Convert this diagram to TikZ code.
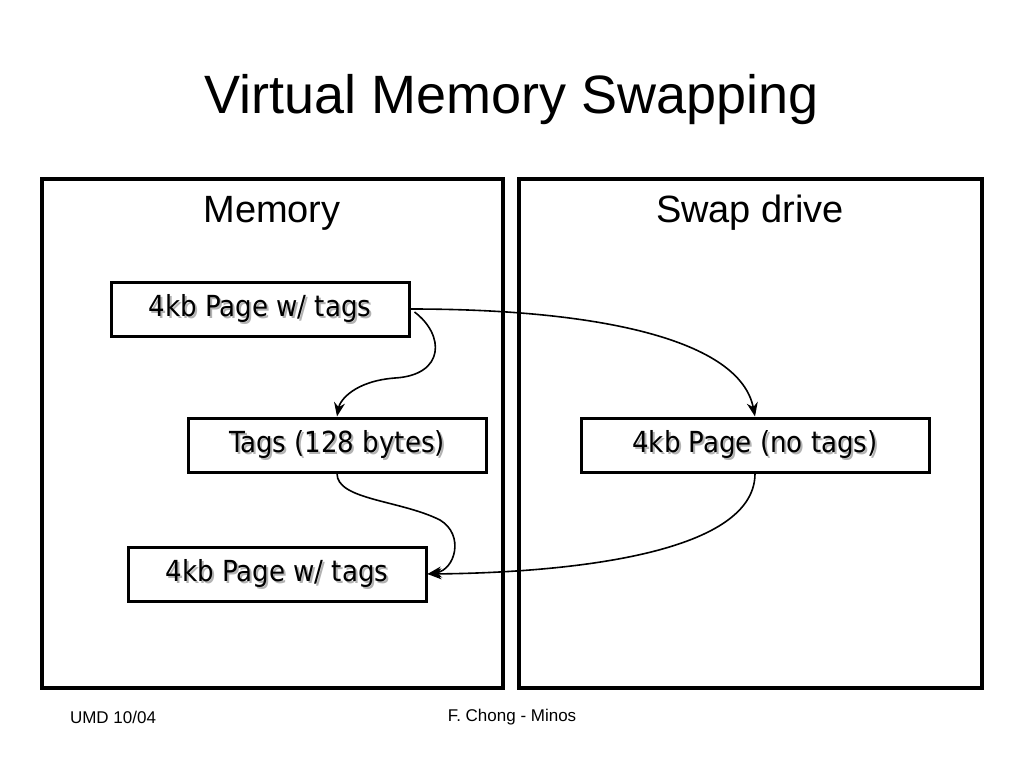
\documentclass[tikz,border=0pt]{standalone}
\usepackage{fontspec}
\setmainfont{Liberation Sans}
\newfontfamily\boxfont{DejaVu Sans Condensed}
\usetikzlibrary{arrows.meta}
\newcommand{\shtext}[1]{\makebox[0pt][l]{\hspace{2pt}\raisebox{-2pt}{\textcolor{black!30}{#1}}}#1}
\tikzset{
 panel/.style={draw,line width=4pt},
 pbox/.style={draw,line width=3pt,minimum height=54pt,inner sep=0pt,font=\boxfont\fontsize{29}{32}\selectfont},
 conn/.style={line width=1.6pt,-{Stealth[length=14pt,width=11pt]}},
}
\begin{document}
\begin{tikzpicture}[x=1pt,y=-1pt]
\useasboundingbox (0,0) rectangle (1024,768);
\node (title) at (512,100) {\fontsize{54}{60}\selectfont Virtual Memory Swapping};
\draw[panel] (42,179) rectangle (503,688);
\draw[panel] (519,179) rectangle (982,688);
\node (mem) at (272,213) {\fontsize{38}{42}\selectfont Memory};
\node (swap) at (750,213) {\fontsize{38}{42}\selectfont Swap drive};
\node[pbox,minimum width=298pt] (A) at (260,309) {\shtext{4kb Page w/ tags}};
\node[pbox,minimum width=298pt] (B) at (337,445) {\shtext{Tags (128 bytes)}};
\node[pbox,minimum width=348pt] (C) at (755,445) {\shtext{4kb Page (no tags)}};
\node[pbox,minimum width=298pt] (D) at (277,574) {\shtext{4kb Page w/ tags}};
\draw[conn] (A.east) .. controls (600,309) and (740,340) .. (C.north);
\draw[conn] ([xshift=4pt,yshift=-3pt]A.east) .. controls (445,335) and (445,375) .. (395,378)
  .. controls (355,381) and (340,400) .. (B.north);
\draw[conn] (B.south) .. controls (337,500) and (400,500) .. (440,520) .. controls (465,535) and (455,570) .. (D.east);
\draw[conn] (C.south) .. controls (755,560) and (540,573) .. (D.east);
\node (f1) at (113,717) {\fontsize{17}{20}\selectfont UMD 10/04};
\node (f2) at (512,717) {\fontsize{17}{20}\selectfont F. Chong - Minos};
\end{tikzpicture}
\end{document}
